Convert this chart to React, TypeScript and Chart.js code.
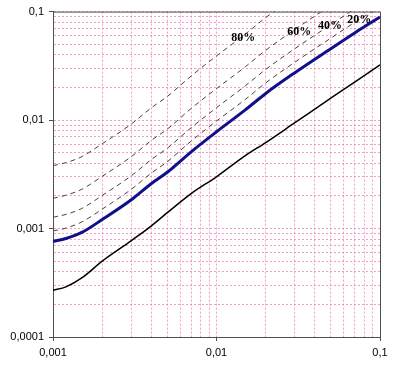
import React, { useEffect, useRef } from "react";
import { Chart, registerables } from "chart.js";

Chart.register(...registerables);

const xValues = [0.001, 0.0012, 0.0015, 0.002, 0.003, 0.004, 0.005, 0.007, 0.01, 0.015, 0.02, 0.03, 0.05, 0.07, 0.1];
const blackSeries = [0.00027, 0.00029, 0.00035, 0.0005, 0.00077, 0.00106, 0.0014, 0.0021, 0.003, 0.0047, 0.0062, 0.0094, 0.0159, 0.0224, 0.0323];
const blueSeries = [0.00076, 0.00081, 0.00092, 0.00121, 0.00183, 0.0026, 0.0033, 0.0051, 0.0078, 0.0124, 0.0176, 0.0272, 0.0455, 0.0636, 0.089];
const series20 = [0.00095, 0.00101, 0.00115, 0.00151, 0.00229, 0.00325, 0.00413, 0.0064, 0.0098, 0.0155, 0.022, 0.034, 0.0569, 0.0795, 0.111];
const series40 = [0.00127, 0.00135, 0.00153, 0.00202, 0.00305, 0.00433, 0.0055, 0.0085, 0.013, 0.0207, 0.0293, 0.0453, 0.0758, 0.106, 0.148];
const series60 = [0.0019, 0.00203, 0.0023, 0.00303, 0.00458, 0.0065, 0.00825, 0.0128, 0.0195, 0.031, 0.044, 0.068, 0.114, 0.159, 0.2225];
const series80 = [0.0038, 0.00405, 0.0046, 0.00605, 0.00915, 0.013, 0.0165, 0.0255, 0.039, 0.062, 0.088, 0.136, 0.228, 0.318, 0.445];

const curveLabels = ["80%", "60%", "40%", "20%"];
const curveLabelX = [0.0146, 0.0321, 0.0494, 0.0747];
const curveLabelY = [0.0569, 0.0646, 0.0733, 0.0832];

const xDecades = [0.001, 0.01];
const yDecades = [0.0001, 0.001, 0.01];
const multipliers = [1, 2, 3, 4, 5, 6, 7, 8, 9];
const xMax = 0.1;
const yMax = 0.1;
const xMajorValues = [0.001, 0.01, 0.1];
const xMajorLabels = ["0,001", "0,01", "0,1"];
const yMajorValues = [0.0001, 0.001, 0.01, 0.1];
const yMajorLabels = ["0,0001", "0,001", "0,01", "0,1"];

function buildTicks(decades: number[], max: number, majors: number[]) {
  const out: { value: number; major: boolean }[] = [];
  decades.forEach((d) => multipliers.forEach((m) => out.push({ value: d * m, major: false })));
  out.push({ value: max, major: false });
  out.forEach((t) => {
    t.major = majors.some((v) => Math.abs(v - t.value) / v < 1e-6);
  });
  return out;
}

function labelFor(value: number, majors: number[], labels: string[]) {
  const i = majors.findIndex((v) => Math.abs(v - value) / v < 1e-6);
  return i >= 0 ? labels[i] : "";
}

function pts(ys: number[]) {
  return xValues.map((x, i) => ({ x, y: ys[i] }));
}

const gridColor = "rgba(235, 125, 175, 0.75)";

export default function App() {
  const canvasRef = useRef<HTMLCanvasElement | null>(null);

  useEffect(() => {
    if (!canvasRef.current) return;
    const dashed = (data: number[]) => ({
      data: pts(data),
      borderColor: "#4a4040",
      borderWidth: 1,
      borderDash: [5, 4],
      pointRadius: 0,
      cubicInterpolationMode: "monotone" as const,
    });

    const framePlugin = {
      id: "frameAndLabels",
      afterDatasetsDraw(chart: any) {
        const { ctx, chartArea, scales } = chart;
        ctx.save();
        ctx.strokeStyle = "#505050";
        ctx.lineWidth = 1;
        ctx.beginPath();
        ctx.moveTo(chartArea.left, chartArea.top + 0.5);
        ctx.lineTo(chartArea.right + 0.5, chartArea.top + 0.5);
        ctx.lineTo(chartArea.right + 0.5, chartArea.bottom);
        ctx.stroke();
        ctx.font = 'bold 12px "Liberation Serif"';
        ctx.fillStyle = "#000";
        ctx.textAlign = "center";
        ctx.textBaseline = "middle";
        curveLabels.forEach((t, i) => {
          ctx.fillText(t, scales.x.getPixelForValue(curveLabelX[i]), scales.y.getPixelForValue(curveLabelY[i]));
        });
        ctx.restore();
      },
    };

    const tickColor = (c: any) => (c.tick && c.tick.major ? "#505050" : "rgba(0,0,0,0)");

    const chart = new Chart(canvasRef.current, {
      type: "line",
      data: {
        datasets: [
          dashed(series80),
          dashed(series60),
          dashed(series40),
          dashed(series20),
          {
            data: pts(blueSeries),
            borderColor: "#10108a",
            borderWidth: 3,
            pointRadius: 0,
            cubicInterpolationMode: "monotone",
          },
          {
            data: pts(blackSeries),
            borderColor: "#000000",
            borderWidth: 1.5,
            pointRadius: 0,
            cubicInterpolationMode: "monotone",
          },
        ],
      },
      options: {
        animation: false,
        responsive: false,
        maintainAspectRatio: false,
        layout: { padding: { top: 10, right: 15, left: 0, bottom: 0 } },
        plugins: { legend: { display: false }, tooltip: { enabled: false } },
        scales: {
          x: {
            type: "logarithmic",
            min: 0.001,
            max: xMax,
            afterBuildTicks: (scale: any) => {
              scale.ticks = buildTicks(xDecades, xMax, xMajorValues);
            },
            afterFit: (scale: any) => {
              scale.height = 32;
            },
            ticks: {
              autoSkip: false,
              maxRotation: 0,
              padding: 5,
              color: "#000",
              font: { family: '"Liberation Sans"', size: 11 },
              callback: (v: any) => labelFor(Number(v), xMajorValues, xMajorLabels),
            },
            grid: {
              color: gridColor,
              lineWidth: 1,
              tickLength: 4,
              tickColor,
            },
            border: { display: true, color: "#505050", width: 1, dash: [2, 2] },
          } as any,
          y: {
            type: "logarithmic",
            min: 0.0001,
            max: yMax,
            afterBuildTicks: (scale: any) => {
              scale.ticks = buildTicks(yDecades, yMax, yMajorValues);
            },
            afterFit: (scale: any) => {
              scale.width = 53;
            },
            ticks: {
              autoSkip: false,
              padding: 5,
              color: "#000",
              font: { family: '"Liberation Sans"', size: 11 },
              callback: (v: any) => labelFor(Number(v), yMajorValues, yMajorLabels),
            },
            grid: {
              color: gridColor,
              lineWidth: 1,
              tickLength: 4,
              tickColor,
            },
            border: { display: true, color: "#505050", width: 1, dash: [2, 2] },
          } as any,
        },
      } as any,
      plugins: [framePlugin],
    });

    return () => chart.destroy();
  }, []);

  return (
    <div style={{ position: "fixed", left: 0, top: 0, width: 395, height: 369, background: "#fff" }}>
      <canvas ref={canvasRef} width={395} height={369} style={{ width: 395, height: 369 }} />
    </div>
  );
}
